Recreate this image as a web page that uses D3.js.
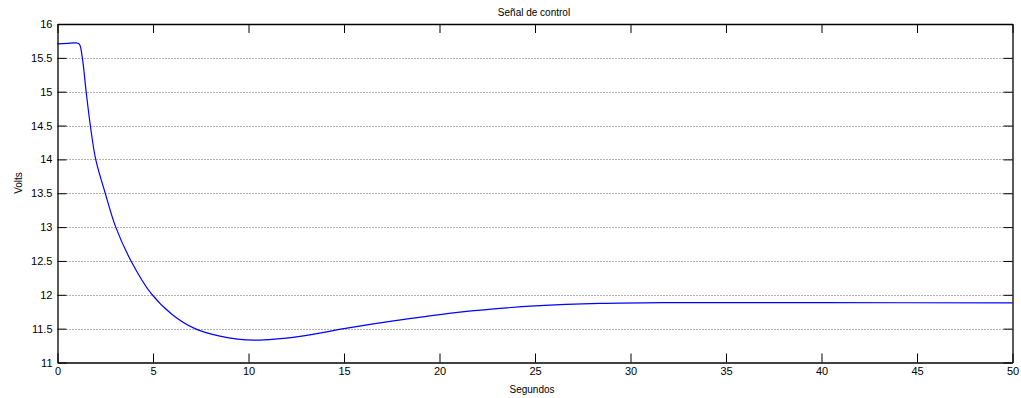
<!DOCTYPE html>
<html>
<head>
<meta charset="utf-8">
<script src="https://cdn.jsdelivr.net/npm/d3@7"></script>
<style>
  html, body { margin: 0; padding: 0; background: #fff; }
  svg { display: block; font-family: "Liberation Sans", Arial, sans-serif; }
</style>
</head>
<body>
<svg id="chart" width="1021" height="398"></svg>
<script>
// Control signal over time (seconds, volts)
const timeSec = [0, 0.5, 1.0, 1.15, 1.3, 1.5, 1.72, 2.0, 2.5, 3.05, 3.85, 4.9, 6.0, 7.2, 8.5, 10.3, 12.7, 15.0, 17.5, 20.5, 23.0, 25.0, 28.4, 32.0, 40.0, 50.0];
const volts   = [15.705, 15.715, 15.72, 15.70, 15.50, 15.00, 14.50, 14.00, 13.50, 13.00, 12.50, 12.02, 11.71, 11.50, 11.39, 11.33, 11.385, 11.50, 11.61, 11.725, 11.795, 11.835, 11.872, 11.884, 11.884, 11.88];

const xTicks = [0, 5, 10, 15, 20, 25, 30, 35, 40, 45, 50];
const yTicks = [11, 11.5, 12, 12.5, 13, 13.5, 14, 14.5, 15, 15.5, 16];

const title = "Señal de control";
const xLabel = "Segundos";
const yLabel = "Volts";

const svg = d3.select("#chart");
const plotL = 57.5, plotR = 1012.5, plotT = 24, plotB = 362.5;

const x = d3.scaleLinear().domain([0, 50]).range([plotL, plotR]);
const y = d3.scaleLinear().domain([11, 16]).range([plotB, plotT]);

// horizontal dotted grid
svg.append("g").selectAll("line")
  .data(yTicks.slice(1, -1))
  .join("line")
  .attr("x1", plotL).attr("x2", plotR)
  .attr("y1", d => Math.round(y(d)) + 0.5).attr("y2", d => Math.round(y(d)) + 0.5)
  .attr("stroke", "#666").attr("stroke-width", 1)
  .attr("stroke-dasharray", "1,2");

// curve
const line = d3.line()
  .x((d, i) => x(timeSec[i]))
  .y(d => y(d))
  .curve(d3.curveCatmullRom.alpha(0.5));

svg.append("path")
  .datum(volts)
  .attr("d", line)
  .attr("fill", "none")
  .attr("stroke", "#0000ff")
  .attr("stroke-width", 1.2);

// axes with inward ticks on all four sides
const tickLen = 9;
const fmt = d => String(d);

const axB = svg.append("g").attr("transform", `translate(0,${plotB})`)
  .call(d3.axisBottom(x).tickValues(xTicks).tickSizeInner(-tickLen).tickSizeOuter(0).tickPadding(14).tickFormat(fmt));
const axT = svg.append("g").attr("transform", `translate(0,${plotT})`)
  .call(d3.axisTop(x).tickValues(xTicks).tickSizeInner(-tickLen).tickSizeOuter(0).tickFormat(""));
const axL = svg.append("g").attr("transform", `translate(${plotL},0)`)
  .call(d3.axisLeft(y).tickValues(yTicks).tickSizeInner(-tickLen).tickSizeOuter(0).tickPadding(14).tickFormat(fmt));
const axR = svg.append("g").attr("transform", `translate(${plotR},0)`)
  .call(d3.axisRight(y).tickValues(yTicks).tickSizeInner(-tickLen).tickSizeOuter(0).tickFormat(""));

[axB, axT, axL, axR].forEach(g => {
  g.select(".domain").attr("stroke", "#000").attr("stroke-width", 1.3);
  g.selectAll(".tick line").attr("stroke", "#000").attr("stroke-width", 1);
  g.selectAll("text").attr("fill", "#000").attr("font-size", 11)
    .attr("font-family", "'Liberation Sans', Arial, sans-serif");
});
axB.selectAll("text").attr("dy", "0.71em").attr("y", 5);
axL.selectAll("text").attr("x", -5);

// titles
svg.append("text").attr("x", 534).attr("y", 12).attr("text-anchor", "middle")
  .attr("dominant-baseline", "central").attr("font-size", 10).text(title);
svg.append("text").attr("x", 532).attr("y", 389).attr("text-anchor", "middle")
  .attr("dominant-baseline", "central").attr("font-size", 10).text(xLabel);
svg.append("text").attr("transform", "translate(18,183) rotate(-90)").attr("text-anchor", "middle")
  .attr("dominant-baseline", "central").attr("font-size", 10).text(yLabel);
</script>
</body>
</html>
